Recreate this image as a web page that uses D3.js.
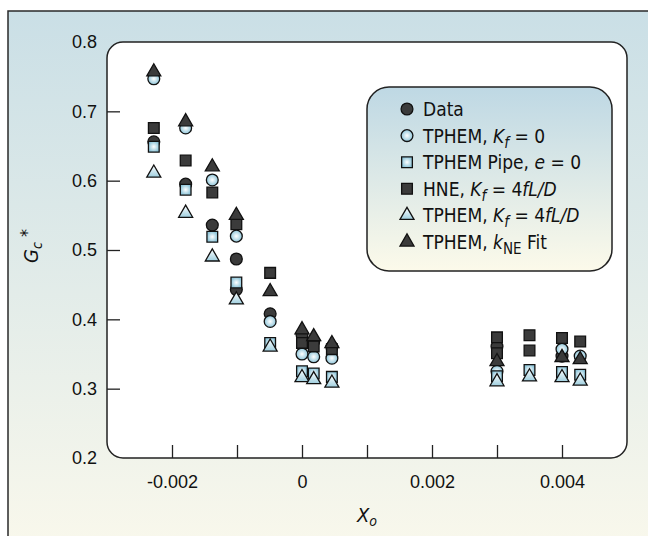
<!DOCTYPE html>
<html>
<head>
<meta charset="utf-8">
<script src="https://cdn.jsdelivr.net/npm/d3@7"></script>
<style>
  body { margin: 0; background: #fff; }
  svg { display: block; font-family: 'Liberation Sans Narrow', 'DejaVu Sans Condensed', 'Liberation Sans', sans-serif; }
</style>
</head>
<body>
<svg id="chart" width="648" height="536"></svg>
<script>
// series values (x = Xo, y = Gc*)
const dataX   = [-0.00228, -0.00179, -0.00138, -0.00101, -0.00101, -0.00049, 0, 0.00018, 0.00046, 0.003, 0.004];
const dataY   = [0.656, 0.595, 0.536, 0.487, 0.443, 0.408, 0.378, 0.368, 0.360, 0.361, 0.347];
const kf0X    = [-0.00228, -0.00179, -0.00138, -0.00101, -0.00049, 0, 0.00018, 0.00046, 0.003, 0.004, 0.00428];
const kf0Y    = [0.747, 0.676, 0.601, 0.520, 0.397, 0.350, 0.346, 0.344, 0.325, 0.357, 0.347];
const pipeX   = [-0.00228, -0.00179, -0.00138, -0.00101, -0.00049, 0, 0.00018, 0.00046, 0.003, 0.0035, 0.004, 0.00428];
const pipeY   = [0.649, 0.587, 0.519, 0.453, 0.366, 0.325, 0.322, 0.317, 0.318, 0.327, 0.324, 0.320];
const hneX    = [-0.00228, -0.00179, -0.00138, -0.00101, -0.00049, 0, 0.00018, 0.00046, 0.003, 0.003, 0.0035, 0.0035, 0.004, 0.00428];
const hneY    = [0.676, 0.629, 0.583, 0.537, 0.467, 0.366, 0.361, 0.357, 0.374, 0.351, 0.377, 0.355, 0.373, 0.368];
const kfLX    = [-0.00228, -0.00179, -0.00138, -0.00101, -0.00049, 0, 0.00018, 0.00046, 0.003, 0.0035, 0.004, 0.00428];
const kfLY    = [0.611, 0.553, 0.490, 0.428, 0.360, 0.316, 0.313, 0.308, 0.310, 0.317, 0.316, 0.311];
const fitX    = [-0.00228, -0.00179, -0.00138, -0.00101, -0.00049, 0, 0.00018, 0.00046, 0.003, 0.004, 0.00428];
const fitY    = [0.757, 0.685, 0.620, 0.550, 0.440, 0.385, 0.375, 0.365, 0.339, 0.345, 0.342];

const xTicks = [-0.002, -0.001, 0, 0.001, 0.002, 0.003, 0.004];
const xLabels = [-0.002, 0, 0.002, 0.004];
const yTicks = [0.2, 0.3, 0.4, 0.5, 0.6, 0.7, 0.8];

const svg = d3.select('#chart');
const defs = svg.append('defs');

function linGrad(id, c1, c2) {
	const g = defs.append('linearGradient').attr('id', id)
		.attr('x1', 0).attr('y1', 0).attr('x2', 0).attr('y2', 1);
	g.append('stop').attr('offset', '0%').attr('stop-color', c1);
	g.append('stop').attr('offset', '100%').attr('stop-color', c2);
}
linGrad('panelGrad', '#cadfe6', '#fbf9ec');
linGrad('legendGrad', '#bed8e4', '#fcfaea');
linGrad('triGrad', '#ffffff', '#9fcfdf');
const rg = defs.append('radialGradient').attr('id', 'lightGrad');
rg.append('stop').attr('offset', '0%').attr('stop-color', '#ffffff');
rg.append('stop').attr('offset', '100%').attr('stop-color', '#8fc6da');

// background panel
svg.append('rect')
	.attr('x', 8).attr('y', 11).attr('width', 660).attr('height', 560)
	.attr('fill', 'url(#panelGrad)')
	.attr('stroke', '#2a2a2a').attr('stroke-width', 1.5);

const x = d3.scaleLinear().domain([-0.003, 0.005]).range([107, 627]);
const y = d3.scaleLinear().domain([0.2, 0.8]).range([458, 42]);

// plot box
svg.append('rect')
	.attr('x', x.range()[0]).attr('y', y.range()[1])
	.attr('width', x.range()[1] - x.range()[0])
	.attr('height', y.range()[0] - y.range()[1])
	.attr('rx', 16)
	.attr('fill', '#fff')
	.attr('stroke', '#222').attr('stroke-width', 1.5);

// axes
const fmtX = v => xLabels.some(l => Math.abs(l - v) < 1e-9) ? String(+v.toFixed(3)) : '';
const xAxis = svg.append('g')
	.attr('transform', `translate(0,${y.range()[0]})`)
	.call(d3.axisBottom(x).tickValues(xTicks).tickSize(-13).tickPadding(17).tickFormat(fmtX));

const yAxis = svg.append('g')
	.attr('transform', `translate(${x.range()[0]},0)`)
	.call(d3.axisLeft(y).tickValues(yTicks).tickSize(-13).tickPadding(10).tickFormat(d3.format('.1f')));

[xAxis, yAxis].forEach(a => {
	a.select('.domain').remove();
	a.selectAll('line').attr('stroke', '#222').attr('stroke-width', 1.3);
	a.selectAll('text').attr('fill', '#111').style('font-size', '18px')
		.style('font-family', null);
});
yAxis.selectAll('.tick').filter(d => d === 0.2 || d === 0.8).select('line').remove();

// axis titles
const xt = svg.append('text')
	.attr('x', (x.range()[0] + x.range()[1]) / 2).attr('y', 522)
	.attr('text-anchor', 'middle').style('font-size', '20px').attr('fill', '#111');
xt.append('tspan').style('font-style', 'italic').text('X');
xt.append('tspan').style('font-style', 'italic').style('font-size', '14px').attr('dy', 4).text('o');

const yt = svg.append('text')
	.attr('transform', 'translate(38,246) rotate(-90)')
	.attr('text-anchor', 'middle').style('font-size', '20px').attr('fill', '#111');
yt.append('tspan').style('font-style', 'italic').text('G');
yt.append('tspan').style('font-style', 'italic').style('font-size', '14px').attr('dy', 4).text('c');
yt.append('tspan').style('font-size', '18px').attr('dy', -9).text(' *');

// markers
const dark = '#3b3b3b';
const edge = '#111';
const symCircle = d3.symbol().type(d3.symbolCircle).size(110);
const symSquare = d3.symbol().type(d3.symbolSquare).size(115);
const symTri = d3.symbol().type(d3.symbolTriangle).size(85);

const series = [
	{ name: 'data', xs: dataX, ys: dataY, sym: symCircle, fill: dark },
	{ name: 'kf0', xs: kf0X, ys: kf0Y, sym: symCircle, fill: 'url(#lightGrad)' },
	{ name: 'pipe', xs: pipeX, ys: pipeY, sym: symSquare, fill: 'url(#lightGrad)' },
	{ name: 'hne', xs: hneX, ys: hneY, sym: symSquare, fill: dark },
	{ name: 'kfL', xs: kfLX, ys: kfLY, sym: symTri, fill: 'url(#triGrad)' },
	{ name: 'fit', xs: fitX, ys: fitY, sym: symTri, fill: dark }
];

series.forEach(s => {
	const pts = s.xs.map((v, i) => [v, s.ys[i]]);
	svg.append('g').selectAll('path')
		.data(pts)
		.join('path')
		.attr('transform', d => `translate(${x(d[0])},${y(d[1])})`)
		.attr('d', s.sym())
		.attr('fill', s.fill)
		.attr('stroke', edge).attr('stroke-width', 1.3);
});

// legend
const lg = svg.append('g');
lg.append('rect')
	.attr('x', 367).attr('y', 87).attr('width', 245).attr('height', 184)
	.attr('rx', 22)
	.attr('fill', 'url(#legendGrad)')
	.attr('stroke', '#222').attr('stroke-width', 1.5);

const legendRows = [
	[{ t: 'Data' }],
	[{ t: 'TPHEM, ' }, { t: 'K', i: 1 }, { t: 'f', i: 1, sub: 1 }, { t: ' = 0', up: 1 }],
	[{ t: 'TPHEM Pipe, ' }, { t: 'e', i: 1 }, { t: ' = 0' }],
	[{ t: 'HNE, ' }, { t: 'K', i: 1 }, { t: 'f', i: 1, sub: 1 }, { t: ' = 4', up: 1 }, { t: 'fL/D', i: 1 }],
	[{ t: 'TPHEM, ' }, { t: 'K', i: 1 }, { t: 'f', i: 1, sub: 1 }, { t: ' = 4', up: 1 }, { t: 'fL/D', i: 1 }],
	[{ t: 'TPHEM, ' }, { t: 'k', i: 1 }, { t: 'NE', sub: 1 }, { t: ' Fit', up: 1 }]
];

legendRows.forEach((parts, r) => {
	const cy = 109 + r * 26.6;
	const s = series[r];
	lg.append('path')
		.attr('transform', `translate(407,${cy})`)
		.attr('d', s.sym())
		.attr('fill', s.fill)
		.attr('stroke', edge).attr('stroke-width', 1.3);
	const t = lg.append('text')
		.attr('x', 423).attr('y', cy + 7)
		.style('font-size', '19px').attr('fill', '#111');
	parts.forEach(p => {
		const ts = t.append('tspan').text(p.t);
		if (p.i) ts.style('font-style', 'italic');
		if (p.sub) ts.attr('dy', 5).style('font-size', '15px');
		if (p.up) ts.attr('dy', -5);
	});
});
</script>
</body>
</html>
